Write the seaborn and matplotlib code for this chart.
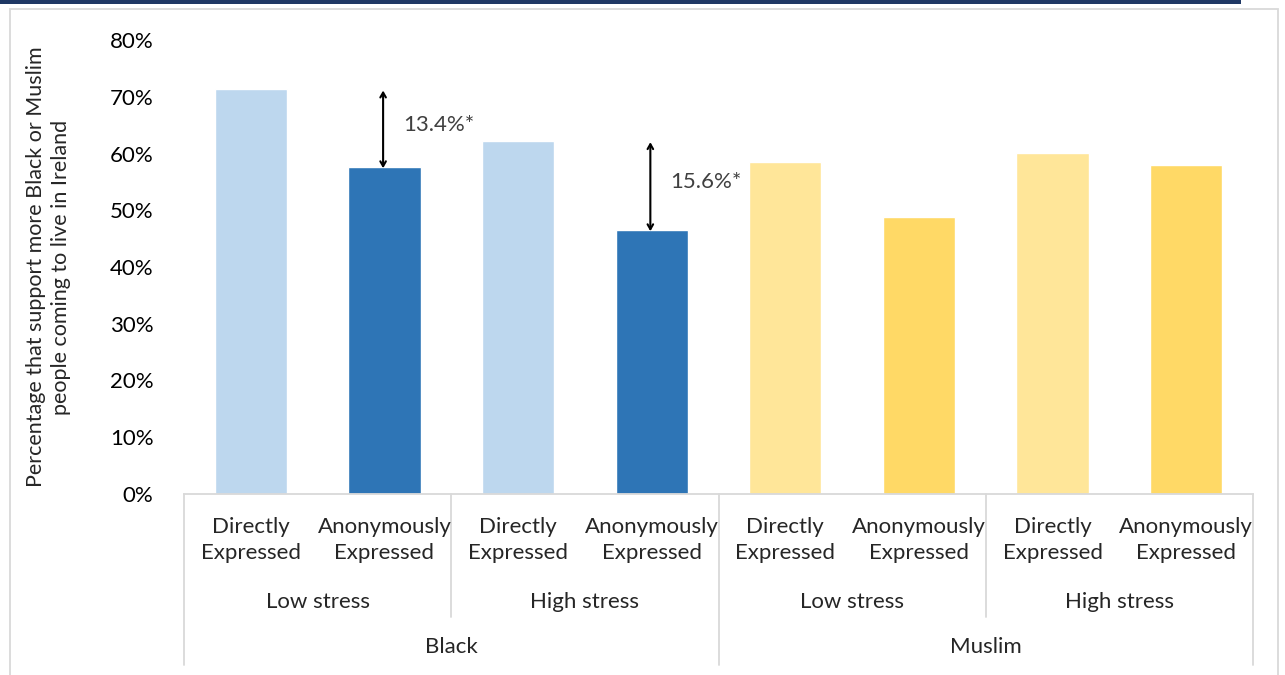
import pandas as pd
import numpy as np
import seaborn as sns
from matplotlib import pyplot as plt
from matplotlib.patches import Rectangle
from matplotlib.lines import Line2D

# data
conditions = ['Directly\nExpressed', 'Anonymously\nExpressed'] * 4
stress = ['Low stress', 'High stress', 'Low stress', 'High stress']
groups = ['Black', 'Muslim']
support = [71.3, 57.6, 62.2, 46.5, 58.5, 48.8, 60.1, 58.0]
bar_colors = ['#BDD7EE', '#2E75B6', '#BDD7EE', '#2E75B6',
              '#FFE699', '#FFD966', '#FFE699', '#FFD966']
gaps = [13.4, 15.6]  # significant differences shown with arrows

sns.set_style('white')
plt.rcParams['font.family'] = ['Lato', 'DejaVu Sans']

df = pd.DataFrame({'bar': [f'b{i}' for i in range(8)], 'support': support})

fig = plt.figure(figsize=(12.85, 6.75), dpi=100)
ax = fig.add_axes([184 / 1285, 1 - 494 / 675, (1253 - 184) / 1285, (494 - 40) / 675])
sns.barplot(data=df, x='bar', y='support', hue='bar', palette=bar_colors,
            legend=False, width=0.54, saturation=1, ax=ax)

fs = 16
ax.set_ylim(0, 80)
ax.set_xlim(-0.5, 7.5)
ax.set_yticks(np.arange(0, 81, 10))
ax.set_yticklabels([f'{v}%' for v in range(0, 81, 10)], fontsize=fs, color='#000000')
ax.tick_params(axis='y', length=0, pad=22)
ax.set_xticks([])
ax.set_xlabel('')
ax.set_ylabel('Percentage that support more Black or Muslim\npeople coming to live in Ireland',
              fontsize=15.5, labelpad=28, linespacing=1.3)
for s in ['top', 'right', 'left']:
    ax.spines[s].set_visible(False)
ax.spines['bottom'].set_color('#D9D9D9')
ax.spines['bottom'].set_linewidth(1.3)

# multi-level category axis
tr = ax.get_xaxis_transform()
for i, lab in enumerate(conditions):
    ax.text(i, -0.101, lab, transform=tr, ha='center', va='center', fontsize=fs, linespacing=1.4)
for j, lab in enumerate(stress):
    ax.text(2 * j + 0.5, -0.238, lab, transform=tr, ha='center', va='center', fontsize=fs)
for k, lab in enumerate(groups):
    ax.text(4 * k + 1.5, -0.337, lab, transform=tr, ha='center', va='center', fontsize=fs)
for xb in [-0.5, 3.5, 7.5]:
    ax.add_line(Line2D([xb, xb], [0, -0.377], transform=tr, color='#D9D9D9', lw=1.3, clip_on=False))
for xb in [1.5, 5.5]:
    ax.add_line(Line2D([xb, xb], [0, -0.271], transform=tr, color='#D9D9D9', lw=1.3, clip_on=False))

# difference arrows
for (top_i, low_i), g in zip([(0, 1), (2, 3)], gaps):
    ax.annotate('', xy=(low_i - 0.01, support[top_i] - 0.2), xytext=(low_i - 0.01, support[low_i] - 0.2),
                arrowprops=dict(arrowstyle='<->,head_length=0.35,head_width=0.2', color='black',
                                lw=1.5, shrinkA=0, shrinkB=0))
    ax.text(low_i + 0.14, (support[top_i] + support[low_i]) / 2 + 0.6, f'{g}%*',
            fontsize=fs, color='#404040', va='center', ha='left')

# frame bits of the original page
fig.add_artist(Rectangle((10 / 1285, -0.01), (1278 - 10) / 1285, 1 - 9 / 675 + 0.01,
                         transform=fig.transFigure, fill=False, edgecolor='#D9D9D9', lw=1.3))
fig.add_artist(Rectangle((0, 1 - 4 / 675), 1241 / 1285, 4 / 675, transform=fig.transFigure,
                         facecolor='#1F3864', edgecolor='none'))

fig.savefig('out.png', dpi=100)
